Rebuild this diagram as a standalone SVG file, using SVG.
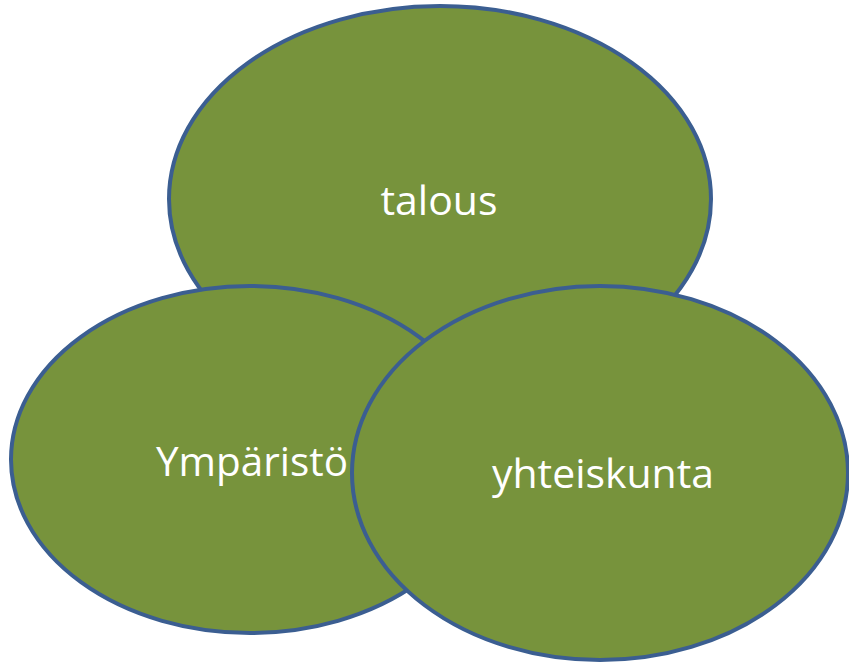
<svg xmlns="http://www.w3.org/2000/svg" width="849" height="663" viewBox="0 0 849 663">
<style>
.e{fill:#77933C;stroke:#3B5E91;stroke-width:4}
.t{fill:#FFFFFF;font-family:"Open Sans","Liberation Sans",sans-serif;font-size:41px;text-anchor:middle}
</style>
<rect width="849" height="663" fill="#FFFFFF"/>
<g id="talous">
<ellipse class="e" cx="440" cy="199" rx="271" ry="193"/>
<text class="t" x="439" y="215" textLength="117" lengthAdjust="spacingAndGlyphs">talous</text>
</g>
<g id="ymparisto">
<ellipse class="e" cx="250" cy="459.5" rx="239" ry="173.5"/>
<text class="t" x="252" y="476" textLength="192" lengthAdjust="spacingAndGlyphs">Ympäristö</text>
</g>
<g id="yhteiskunta">
<ellipse class="e" cx="600" cy="473" rx="248" ry="187"/>
<text class="t" x="603" y="488" textLength="222" lengthAdjust="spacingAndGlyphs">yhteiskunta</text>
</g>
<g id="connectors"></g>
</svg>
